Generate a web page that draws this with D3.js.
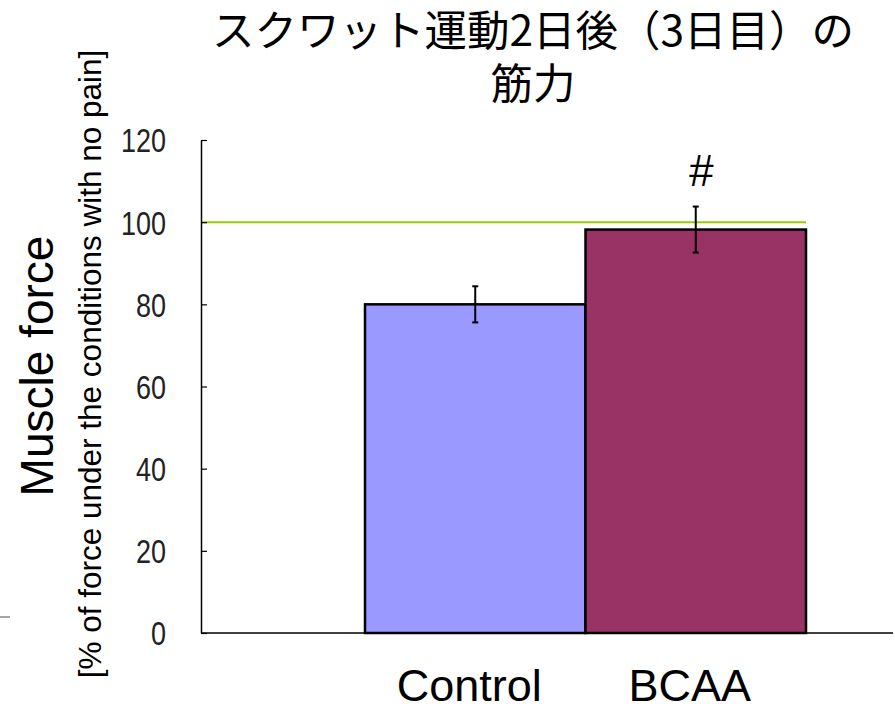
<!DOCTYPE html>
<html>
<head>
<meta charset="utf-8">
<script src="https://cdn.jsdelivr.net/npm/d3@7"></script>
<style>
  html, body { margin: 0; padding: 0; background: #fff; }
  svg { display: block; }
</style>
</head>
<body>
<svg id="chart" width="895" height="707"></svg>
<script>
// Muscle force two days after squat exercise (day 3)
const categories = ["Control", "BCAA"];
const values = [80, 98.2];
const errors = [4.4, 5.6];
const colors = ["#9999FF", "#993366"];
const yTicks = [0, 20, 40, 60, 80, 100, 120];
const referenceLevel = 100;
const markers = ["", "#"];
const titleLines = ["スクワット運動2日後（3日目）の", "筋力"];

const svg = d3.select("#chart");

const y = d3.scaleLinear().domain([0, 120]).range([633, 140]);
const x = d3.scaleBand().domain(categories).range([365, 806]).paddingInner(0).paddingOuter(0);
const axisX = 201, plotRight = 893;

// Title
svg.append("g").selectAll("text").data(titleLines).join("text")
  .attr("x", 533)
  .attr("y", (d, i) => 46 + i * 53)
  .attr("text-anchor", "middle")
  .attr("font-family", "'Noto Sans CJK JP', sans-serif")
  .attr("font-size", 42.5)
  .attr("fill", "#000")
  .text(d => d);

// Bars
svg.append("g").selectAll("rect").data(categories).join("rect")
  .attr("x", d => x(d))
  .attr("y", (d, i) => y(values[i]))
  .attr("width", x.bandwidth())
  .attr("height", (d, i) => y(0) - y(values[i]))
  .attr("fill", (d, i) => colors[i])
  .attr("stroke", "#000")
  .attr("stroke-width", 2.5);

// Reference line at 100 %
svg.append("line")
  .attr("x1", axisX).attr("x2", x.range()[1])
  .attr("y1", y(referenceLevel)).attr("y2", y(referenceLevel))
  .attr("stroke", "#99CC00").attr("stroke-width", 2);

// Error bars
const eb = svg.append("g").attr("stroke", "#000").attr("stroke-width", 2);
categories.forEach((c, i) => {
  const cx = x(c) + x.bandwidth() / 2;
  const top = y(values[i] + errors[i]), bot = y(values[i] - errors[i]);
  eb.append("line").attr("x1", cx).attr("x2", cx).attr("y1", top).attr("y2", bot);
  eb.append("line").attr("x1", cx - 3).attr("x2", cx + 3).attr("y1", top).attr("y2", top);
  eb.append("line").attr("x1", cx - 3).attr("x2", cx + 3).attr("y1", bot).attr("y2", bot);
});

// Significance markers
svg.append("g").selectAll("text").data(categories).join("text")
  .attr("x", d => x(d) + x.bandwidth() / 2 + 5)
  .attr("y", (d, i) => y(values[i] + errors[i]) - 21)
  .attr("text-anchor", "middle")
  .attr("font-family", "'Liberation Sans', Arial, sans-serif")
  .attr("font-style", "italic")
  .attr("font-size", 44)
  .text((d, i) => markers[i]);

// Y axis
const yAxis = d3.axisRight(y).tickValues(yTicks).tickSize(6).tickSizeOuter(0).tickFormat(d3.format("d"));
const gy = svg.append("g").attr("transform", `translate(${axisX},0)`).call(yAxis);
gy.select(".domain").attr("stroke", "#000").attr("stroke-width", 1.5);
gy.selectAll(".tick line").attr("stroke", "#000").attr("stroke-width", 1.2);
gy.selectAll(".tick text")
  .attr("x", -35)
  .attr("dy", "0.36em")
  .attr("text-anchor", "end")
  .attr("font-family", "'Liberation Sans Narrow', 'Liberation Sans', sans-serif")
  .attr("font-size", 33)
  .attr("fill", "#222")
  .attr("textLength", function () { return this.textContent.length * 15; })
  .attr("lengthAdjust", "spacingAndGlyphs");

// X baseline
svg.append("line")
  .attr("x1", axisX).attr("x2", plotRight)
  .attr("y1", y(0)).attr("y2", y(0))
  .attr("stroke", "#000").attr("stroke-width", 1.5);

// Category labels
svg.append("g").selectAll("text").data(categories).join("text")
  .attr("x", d => x(d) + x.bandwidth() / 2 - 6)
  .attr("y", 701)
  .attr("text-anchor", "middle")
  .attr("font-family", "'Liberation Sans', Arial, sans-serif")
  .attr("font-size", 45)
  .text(d => d);

// Y axis titles
svg.append("text")
  .attr("transform", "translate(53,366) rotate(-90)")
  .attr("text-anchor", "middle")
  .attr("font-family", "'Liberation Sans', Arial, sans-serif")
  .attr("font-size", 46)
  .text("Muscle force");

svg.append("text")
  .attr("transform", "translate(101,364) rotate(-90)")
  .attr("text-anchor", "middle")
  .attr("font-family", "'Liberation Sans', Arial, sans-serif")
  .attr("font-size", 31.5)
  .text("[% of force under the conditions with no pain]");

// Small leftover stroke on the left edge
svg.append("line")
  .attr("x1", 0).attr("x2", 10).attr("y1", 617).attr("y2", 617)
  .attr("stroke", "#888").attr("stroke-width", 1.5);
</script>
</body>
</html>
